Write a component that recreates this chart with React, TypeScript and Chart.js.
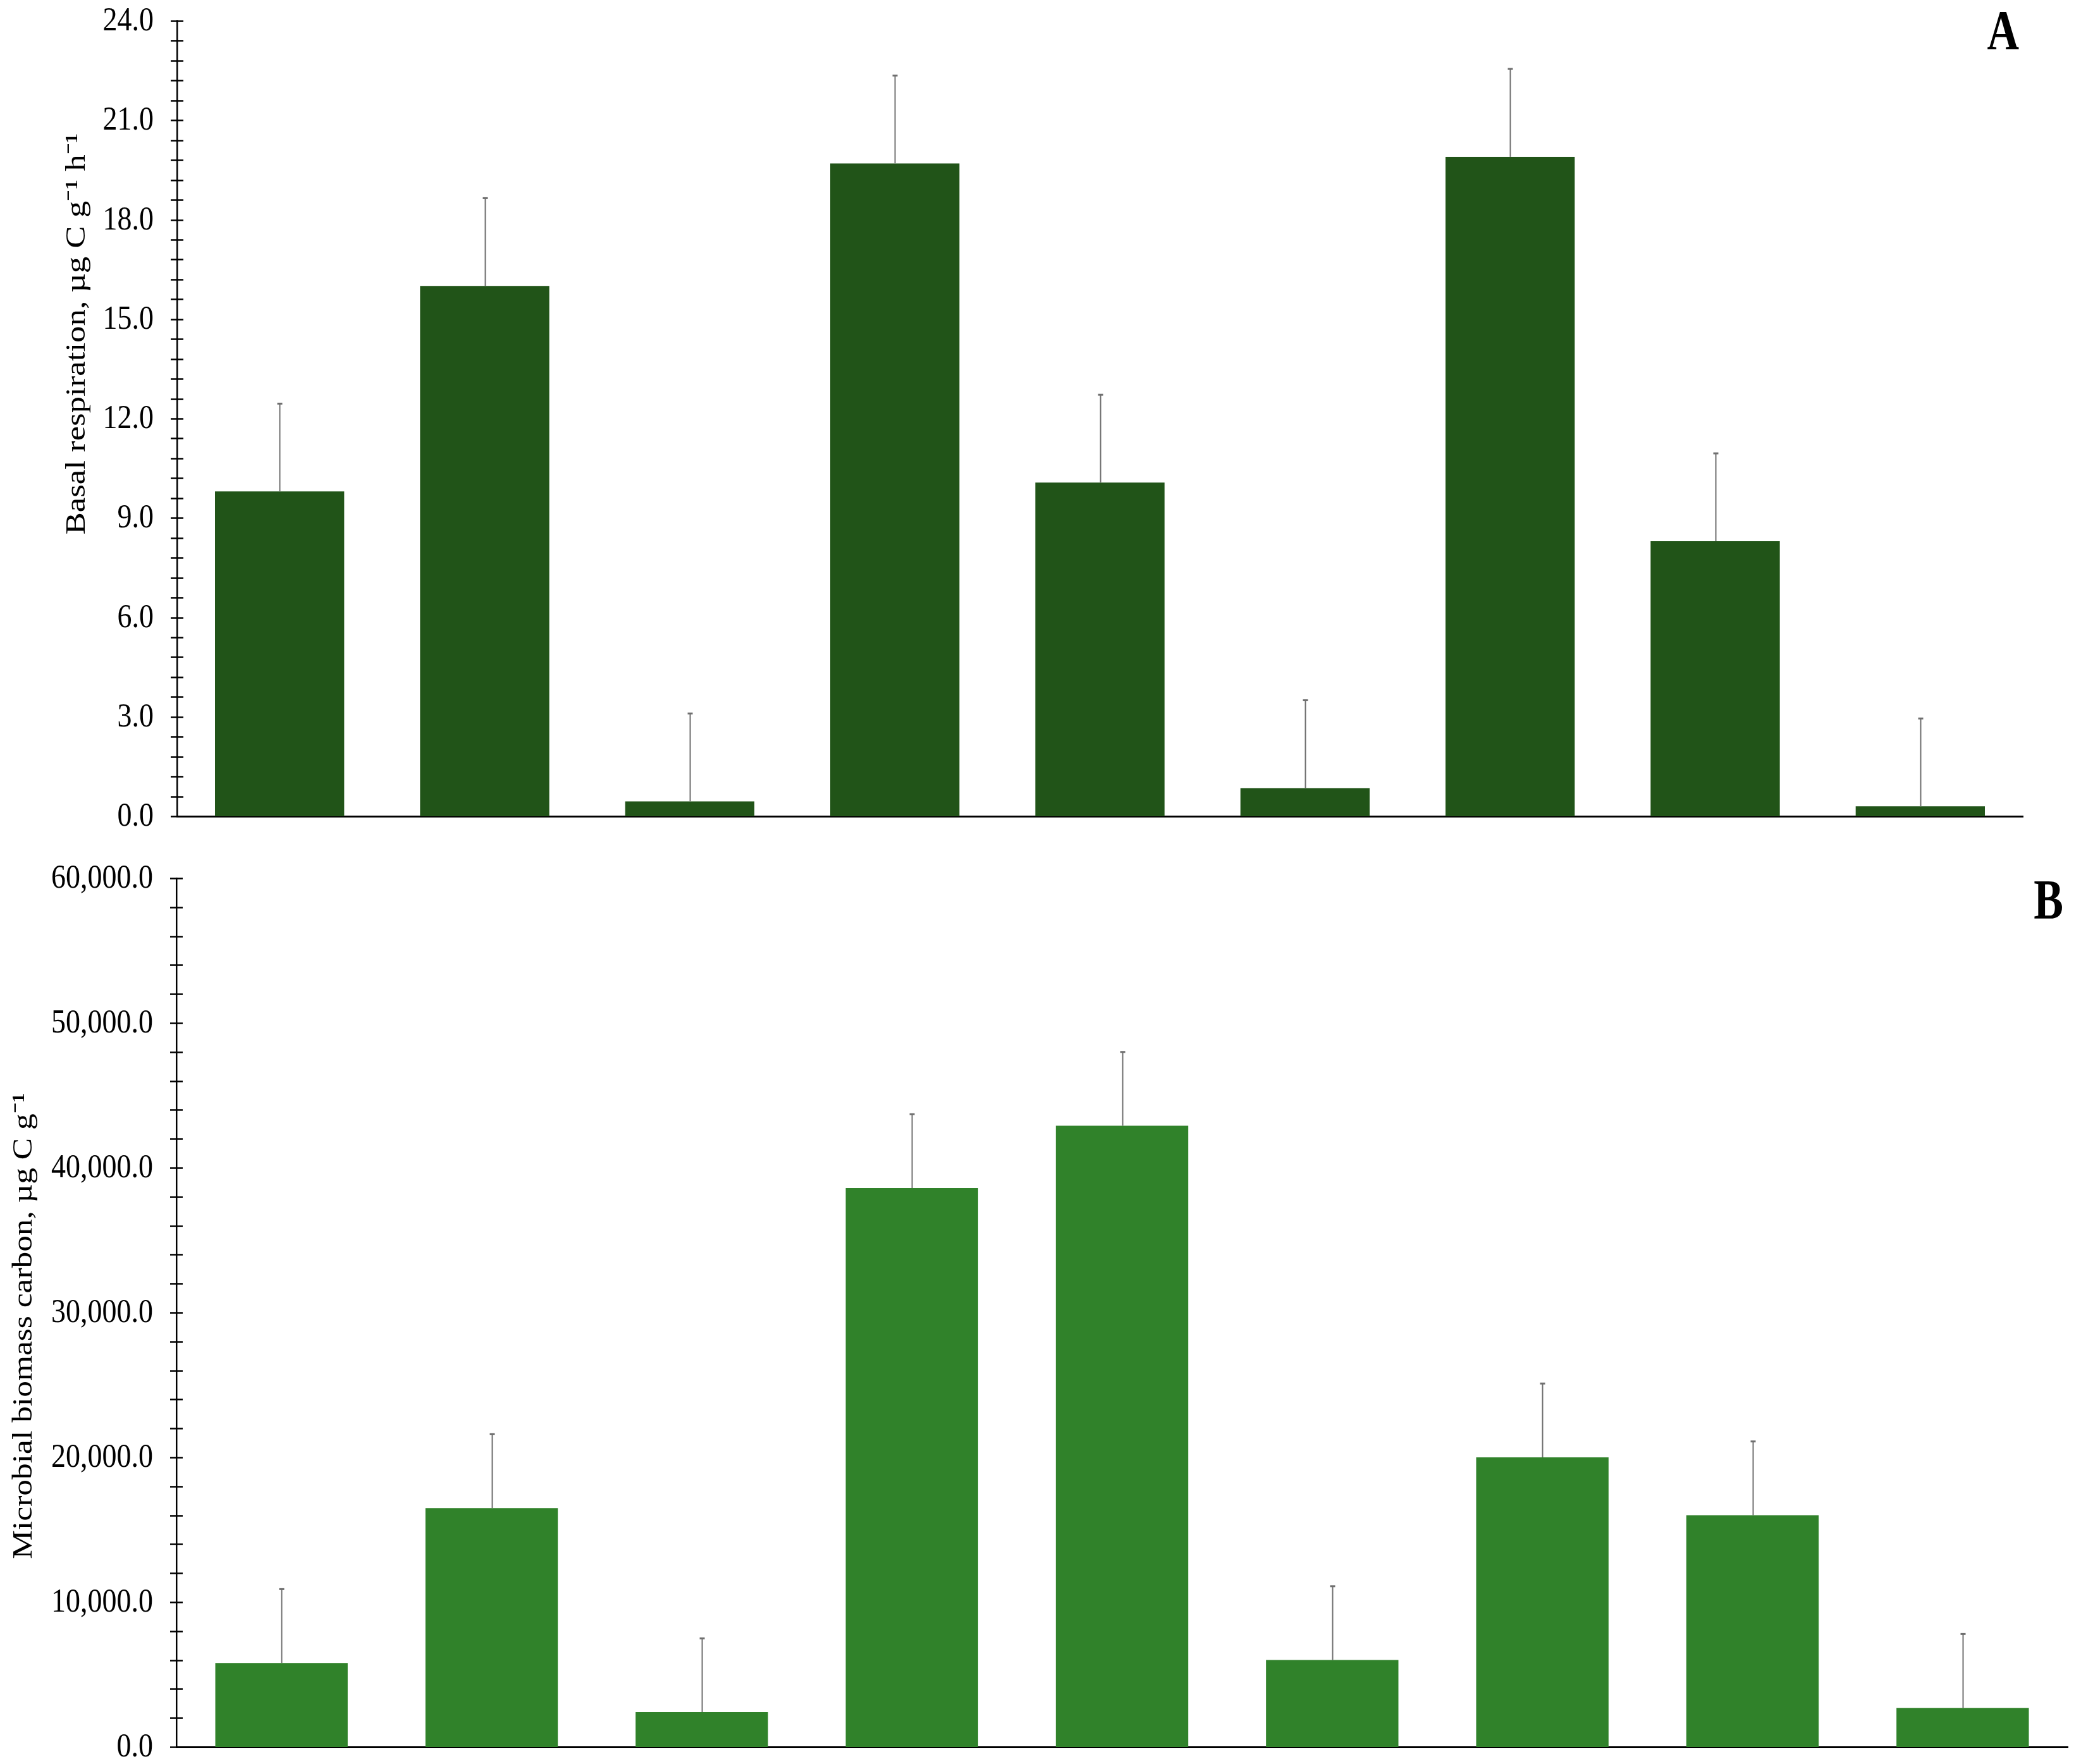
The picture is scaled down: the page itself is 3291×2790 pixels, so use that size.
import React, { useEffect, useRef } from "react";
import { Chart, registerables } from "chart.js";

Chart.register(...registerables);

const categories = ["1", "2", "3", "4", "5", "6", "7", "8", "9"];

// Panel A: basal respiration
const respirationValues = [9.8, 16.0, 0.45, 19.7, 10.07, 0.85, 19.9, 8.3, 0.3];
const respirationErrors = [2.65, 2.65, 2.65, 2.65, 2.65, 2.65, 2.65, 2.65, 2.65];
const respirationTitle = "Basal respiration, µg C g⁻¹ h⁻¹";

// Panel B: microbial biomass carbon
const biomassValues = [5800, 16500, 2400, 38600, 42900, 6000, 20000, 16000, 2700];
const biomassErrors = [5100, 5100, 5100, 5100, 5100, 5100, 5100, 5100, 5100];
const biomassTitle = "Microbial biomass carbon, µg C g⁻¹";

const FONT = "'Liberation Serif', 'Times New Roman', serif";
const W = 3291;

type PanelCfg = {
  height: number;
  values: number[];
  errors: number[];
  color: string;
  max: number;
  minorStep: number;
  majorStep: number;
  fmt: (v: number) => string;
  title: string;
  titleX: number;
  titleY: number;
  titleStretch: number;
  letter: string;
  letterX: number;
  letterY: number;
  padding: { left: number; right: number; top: number; bottom: number };
  axisWidth: number;
};

const extrasPlugin = {
  id: "extras",
  afterDatasetsDraw(chart: any, _args: any, opts: any) {
    const ctx = chart.ctx;
    const ys = chart.scales.y;
    const meta = chart.getDatasetMeta(0);
    const vals: number[] = opts.values;
    const errs: number[] = opts.errors;
    ctx.save();
    ctx.strokeStyle = "#6f6f6f";
    meta.data.forEach((el: any, i: number) => {
      const x = Math.round(el.x) + 0.5;
      const y0 = ys.getPixelForValue(vals[i]);
      const y1 = ys.getPixelForValue(vals[i] + errs[i]);
      ctx.lineWidth = 2;
      ctx.beginPath();
      ctx.moveTo(x, y0);
      ctx.lineTo(x, y1);
      ctx.stroke();
      ctx.lineWidth = 3;
      ctx.beginPath();
      ctx.moveTo(x - 4, y1);
      ctx.lineTo(x + 4, y1);
      ctx.stroke();
    });
    ctx.restore();
  },
  afterDraw(chart: any, _args: any, opts: any) {
    const ctx = chart.ctx;
    const ys = chart.scales.y;
    const ax = chart.chartArea.left;
    ctx.save();
    // crossing tick marks + major labels
    ctx.strokeStyle = "#000";
    ctx.lineWidth = 2.5;
    ctx.fillStyle = "#000";
    ctx.font = `46px ${FONT}`;
    ctx.textAlign = "right";
    ctx.textBaseline = "middle";
    ys.ticks.forEach((t: any) => {
      const py = ys.getPixelForValue(t.value);
      const y = Math.round(py) + 0.5;
      ctx.beginPath();
      ctx.moveTo(ax - 10, y);
      ctx.lineTo(ax + 10, y);
      ctx.stroke();
      const r = t.value / opts.majorStep;
      if (Math.abs(r - Math.round(r)) < 1e-6) {
        ctx.save();
        ctx.translate(ax - 37, py + 1);
        ctx.scale(1, 1.17);
        ctx.fillText(opts.fmt(Math.round(r) * opts.majorStep), 0, 0);
        ctx.restore();
      }
    });
    ctx.restore();
    // y-axis title
    ctx.save();
    ctx.fillStyle = "#000";
    ctx.font = `44px ${FONT}`;
    ctx.textAlign = "center";
    ctx.textBaseline = "middle";
    ctx.translate(opts.titleX, opts.titleY);
    ctx.rotate(-Math.PI / 2);
    ctx.scale(opts.titleStretch, 1);
    ctx.fillText(opts.title, 0, 0);
    ctx.restore();
    // panel letter
    ctx.save();
    ctx.fillStyle = "#000";
    ctx.font = `bold 70px ${FONT}`;
    ctx.textAlign = "right";
    ctx.textBaseline = "alphabetic";
    ctx.translate(opts.letterX, opts.letterY);
    ctx.scale(1, 1.27);
    ctx.fillText(opts.letter, 0, 0);
    ctx.restore();
  },
};

function Panel({ cfg, top }: { cfg: PanelCfg; top: number }) {
  const ref = useRef<HTMLCanvasElement | null>(null);
  useEffect(() => {
    if (!ref.current) return;
    const chart = new Chart(ref.current, {
      type: "bar",
      data: {
        labels: categories,
        datasets: [
          {
            data: cfg.values,
            backgroundColor: cfg.color,
            borderWidth: 0,
            categoryPercentage: 1,
            barPercentage: 0.63,
          },
        ],
      },
      options: {
        responsive: false,
        maintainAspectRatio: false,
        animation: false,
        devicePixelRatio: 1,
        layout: { padding: cfg.padding },
        plugins: {
          legend: { display: false },
          tooltip: { enabled: false },
          title: { display: false },
          extras: {
            values: cfg.values,
            errors: cfg.errors,
            majorStep: cfg.majorStep,
            fmt: cfg.fmt,
            title: cfg.title,
            titleX: cfg.titleX,
            titleY: cfg.titleY,
            titleStretch: cfg.titleStretch,
            letter: cfg.letter,
            letterX: cfg.letterX,
            letterY: cfg.letterY,
          },
        } as any,
        scales: {
          x: {
            ticks: { display: false },
            grid: { display: false, drawTicks: false },
            border: { display: true, color: "#000", width: 3 },
            afterFit: (s: any) => {
              s.height = 0;
            },
          },
          y: {
            min: 0,
            max: cfg.max,
            ticks: {
              display: false,
              stepSize: cfg.minorStep,
              maxTicksLimit: 1000,
              autoSkip: false,
            },
            grid: { display: false, drawTicks: false },
            border: { display: true, color: "#000", width: 2.5 },
            afterFit: (s: any) => {
              s.width = cfg.axisWidth;
            },
          },
        },
      },
      plugins: [extrasPlugin],
    });
    return () => chart.destroy();
  }, []);
  return (
    <canvas
      ref={ref}
      width={W}
      height={cfg.height}
      style={{ position: "absolute", left: 0, top, width: W, height: cfg.height, display: "block" }}
    />
  );
}

const panelA: PanelCfg = {
  height: 1330,
  values: respirationValues,
  errors: respirationErrors,
  color: "#215418",
  max: 24,
  minorStep: 0.6,
  majorStep: 3,
  fmt: (v) => v.toFixed(1),
  title: respirationTitle,
  titleX: 122,
  titleY: 528,
  titleStretch: 1.2,
  letter: "A",
  letterX: 3193,
  letterY: 77,
  padding: { left: 0, right: 92, top: 33, bottom: 39 },
  axisWidth: 280,
};

const panelB: PanelCfg = {
  height: 1460,
  values: biomassValues,
  errors: biomassErrors,
  color: "#30822a",
  max: 60000,
  minorStep: 2000,
  majorStep: 10000,
  fmt: (v) =>
    v.toLocaleString("en-US", { minimumFractionDigits: 1, maximumFractionDigits: 1 }),
  title: biomassTitle,
  titleX: 38,
  titleY: 767,
  titleStretch: 1.17,
  letter: "B",
  letterX: 3263,
  letterY: 122,
  padding: { left: 0, right: 21, top: 59, bottom: 27 },
  axisWidth: 279,
};

export default function App() {
  return (
    <div style={{ position: "absolute", left: 0, top: 0, width: W, height: 2790, background: "#fff" }}>
      <Panel cfg={panelA} top={0} />
      <Panel cfg={panelB} top={1330} />
    </div>
  );
}
